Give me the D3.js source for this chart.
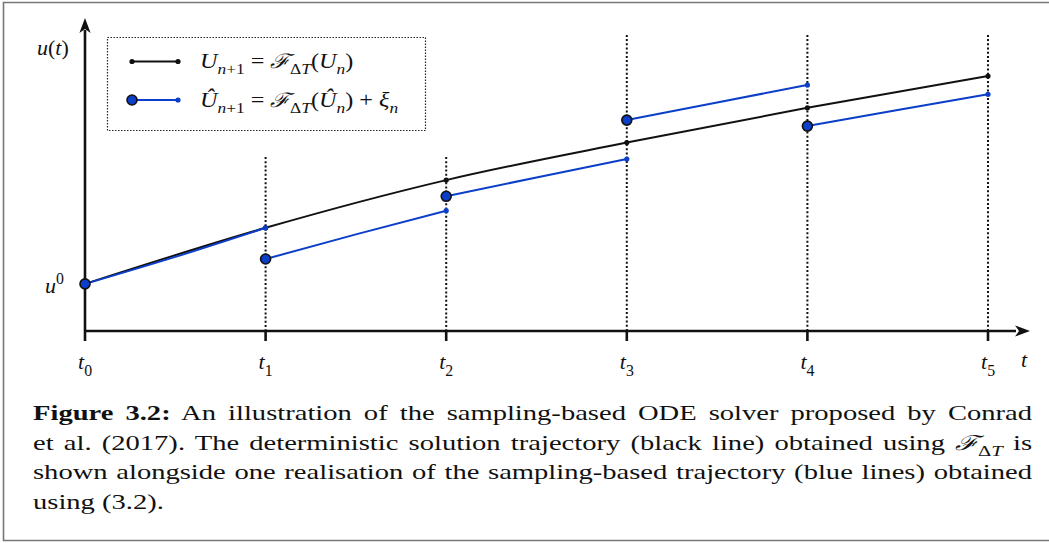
<!DOCTYPE html>
<html>
<head>
<meta charset="utf-8">
<script src="https://cdn.jsdelivr.net/npm/d3@7"></script>
<style>
  html, body { margin: 0; padding: 0; background: #fff; }
  svg { display: block; }
  text { font-family: "Liberation Serif", "DejaVu Serif", serif; fill: #111; }
</style>
</head>
<body>
<svg id="fig" width="1049" height="543"></svg>
<script>
// Time grid t_0 ... t_5
const steps = [0, 1, 2, 3, 4, 5];
// Deterministic trajectory U_{n+1} = F(U_n), value at each t_n
const detValues = [1.57, 3.44, 5.03, 6.28, 7.44, 8.50];
// Sampled trajectory: one segment per step, [t, u] pairs (start, mid, end)
const sampleSegments = [
  [[0, 1.57], [0.5, 2.47], [1, 3.44]],
  [[1, 2.40], [1.5, 3.22], [2, 4.01]],
  [[2, 4.49], [2.5, 5.12], [3, 5.73]],
  [[3, 7.03], [3.5, 7.62], [4, 8.20]],
  [[4, 6.83], [4.5, 7.37], [5, 7.89]]
];
// Height reached by the dotted guide above each t_1 ... t_5
const guideTops = [5.8, 5.8, 9.87, 9.87, 9.87];
// Tick labels along the time axis
const tickSubs = ["0", "1", "2", "3", "4", "5"];

const BLUE = "#0b3ec9";
const svg = d3.select("#fig");

const x = d3.scaleLinear().domain([0, 5]).range([85, 988]);
const y = d3.scaleLinear().domain([0, 10]).range([331, 31]);

// Outer frame
svg.append("path")
  .attr("d", "M1049,2.5 H3.5 V540.5 H1049")
  .attr("fill", "none").attr("stroke", "#777").attr("stroke-width", 1.6);

// Write a math expression made of parts: [text, kind]
// kind: "i" italic, "r" roman, "si"/"sr" subscript italic/roman, "pi"/"pr" superscript
function mathText(parent, px, py, parts, size) {
  const t = parent.append("text").attr("x", px).attr("y", py).style("font-size", size + "px");
  let offset = 0;
  parts.forEach(([str, kind]) => {
    const sub = kind[0] === "s", sup = kind[0] === "p";
    const italic = kind[kind.length - 1] === "i";
    const target = sub ? size * 0.3 : sup ? -size * 0.42 : 0;
    t.append("tspan")
      .attr("dy", target - offset)
      .style("font-style", italic ? "italic" : "normal")
      .style("font-size", (sub || sup ? size * 0.72 : size) + "px")
      .text(str);
    offset = target;
  });
  return t;
}

// Stretch a text horizontally so it spans a given width from its anchor x
function fitWidth(t, x0, width) {
  const w = t.node().getComputedTextLength();
  t.attr("x", 0).attr("transform", `translate(${x0},0) scale(${width / w},1)`);
}

// Dotted guides at t_1 ... t_5
svg.append("g").selectAll("line")
  .data(steps.slice(1))
  .join("line")
  .attr("x1", d => x(d)).attr("x2", d => x(d))
  .attr("y1", (d, i) => y(guideTops[i])).attr("y2", y(0))
  .attr("stroke", "#111").attr("stroke-width", 2)
  .attr("stroke-dasharray", "2,2.2");

// Axes
const axes = svg.append("g").attr("stroke", "#111").attr("stroke-width", 2.6);
axes.append("line").attr("x1", x(0)).attr("x2", 1016).attr("y1", y(0)).attr("y2", y(0));
axes.append("line").attr("x1", x(0)).attr("x2", x(0)).attr("y1", y(0)).attr("y2", 30);
axes.selectAll("line.tick").data(steps).join("line").attr("class", "tick")
  .attr("x1", d => x(d)).attr("x2", d => x(d))
  .attr("y1", y(0)).attr("y2", y(0) + 10);
const arrow = "M0,0 L-15,-5.6 L-11,0 L-15,5.6 Z";
svg.append("path").attr("d", arrow).attr("fill", "#111")
  .attr("transform", `translate(1030,${y(0)})`);
svg.append("path").attr("d", arrow).attr("fill", "#111")
  .attr("transform", `translate(${x(0)},18) rotate(-90)`);

// Axis labels
steps.forEach((d, i) => {
  mathText(svg, x(d) - 7, 369, [["t", "i"], [tickSubs[i], "sr"]], 22);
});
mathText(svg, 1021, 367, [["t", "i"]], 22);
mathText(svg, 37, 55, [["u", "i"], ["(", "r"], ["t", "i"], [")", "r"]], 22);
mathText(svg, 45, 293, [["u", "i"], ["0", "pr"]], 22);

// Deterministic trajectory
const line = d3.line().x(d => x(d[0])).y(d => y(d[1]));
svg.append("path")
  .datum(steps.map((s, i) => [s, detValues[i]]))
  .attr("d", line.curve(d3.curveMonotoneX))
  .attr("fill", "none").attr("stroke", "#111").attr("stroke-width", 2);
svg.append("g").selectAll("circle")
  .data(steps).join("circle")
  .attr("cx", d => x(d)).attr("cy", (d, i) => y(detValues[i]))
  .attr("r", 2.6).attr("fill", "#111");

// Sampled trajectory segments
const sLine = d3.line().x(d => x(d[0])).y(d => y(d[1])).curve(d3.curveNatural);
const segG = svg.append("g");
segG.selectAll("path")
  .data(sampleSegments).join("path")
  .attr("d", sLine)
  .attr("fill", "none").attr("stroke", BLUE).attr("stroke-width", 2);
segG.selectAll("circle.end")
  .data(sampleSegments).join("circle").attr("class", "end")
  .attr("cx", d => x(d[d.length - 1][0])).attr("cy", d => y(d[d.length - 1][1]))
  .attr("r", 2.6).attr("fill", BLUE);
segG.selectAll("circle.start")
  .data(sampleSegments).join("circle").attr("class", "start")
  .attr("cx", d => x(d[0][0])).attr("cy", d => y(d[0][1]))
  .attr("r", 5).attr("fill", BLUE).attr("stroke", "#111").attr("stroke-width", 1.6);

// Legend
const lg = svg.append("g");
lg.append("rect").attr("x", 107.5).attr("y", 37.5).attr("width", 318).attr("height", 93)
  .attr("fill", "none").attr("stroke", "#222").attr("stroke-width", 1.2)
  .attr("stroke-dasharray", "1.5,1.5");
lg.append("line").attr("x1", 132).attr("x2", 178).attr("y1", 61.5).attr("y2", 61.5)
  .attr("stroke", "#111").attr("stroke-width", 2);
lg.selectAll("circle.k").data([132, 178]).join("circle").attr("class", "k")
  .attr("cx", d => d).attr("cy", 61.5).attr("r", 2.6).attr("fill", "#111");
lg.append("line").attr("x1", 132).attr("x2", 178).attr("y1", 100).attr("y2", 100)
  .attr("stroke", BLUE).attr("stroke-width", 2);
lg.append("circle").attr("cx", 178).attr("cy", 100).attr("r", 2.6).attr("fill", BLUE);
lg.append("circle").attr("cx", 132).attr("cy", 100).attr("r", 5)
  .attr("fill", BLUE).attr("stroke", "#111").attr("stroke-width", 1.6);

const leg1 = mathText(lg, 200, 68, [
  ["U", "i"], ["n", "si"], ["+1", "sr"], ["  =  ", "r"], ["\u2131", "i"], ["\u0394", "sr"], ["T", "si"],
  ["(", "r"], ["U", "i"], ["n", "si"], [")", "r"]
], 20);
fitWidth(leg1, 200, 153);
const leg2 = mathText(lg, 200, 107, [
  ["\u00DB", "i"], ["n", "si"], ["+1", "sr"], ["  =  ", "r"], ["\u2131", "i"], ["\u0394", "sr"], ["T", "si"],
  ["(", "r"], ["\u00DB", "i"], ["n", "si"], [")", "r"], ["  +  ", "r"], ["\u03BE", "i"], ["n", "si"]
], 20);
fitWidth(leg2, 200, 198);

// Caption, justified between the margins
const capLeft = 33, capRight = 1032, capSize = 20.5;
const captionLines = [
  { parts: [["Figure 3.2:", "b"], [" An illustration of the sampling-based ODE solver proposed by Conrad", "r"]], justify: true },
  { parts: [["et al. (2017). The deterministic solution trajectory (black line) obtained using ", "r"], ["\u2131", "i"], ["\u0394", "sr"], ["T", "si"], [" is", "r"]], justify: true },
  { parts: [["shown alongside one realisation of the sampling-based trajectory (blue lines) obtained", "r"]], justify: true },
  { parts: [["using (3.2).", "r"]], justify: false }
];
const capTexts = captionLines.map((ln, i) => {
  const t = svg.append("text").attr("x", 0).attr("y", 420 + i * 29.7)
    .style("font-size", capSize + "px");
  let offset = 0;
  ln.parts.forEach(([str, kind]) => {
    const sub = kind[0] === "s";
    const target = sub ? capSize * 0.3 : 0;
    t.append("tspan")
      .attr("dy", target - offset)
      .style("font-weight", kind === "b" ? "bold" : "normal")
      .style("font-style", kind.endsWith("i") ? "italic" : "normal")
      .style("font-size", (sub ? capSize * 0.72 : capSize) + "px")
      .text(str);
    offset = target;
  });
  return t;
});
// Common horizontal stretch, then word spacing fills each justified line
const ratios = capTexts.filter((t, i) => captionLines[i].justify)
  .map(t => (capRight - capLeft) / t.node().getComputedTextLength());
const stretch = d3.min(ratios) * 0.985;
capTexts.forEach((t, i) => {
  const ln = captionLines[i];
  t.attr("transform", `translate(${capLeft},0) scale(${stretch},1)`);
  if (ln.justify) {
    const natural = t.node().getComputedTextLength();
    const spaces = ln.parts.map(p => p[0]).join("").split(" ").length - 1;
    t.style("word-spacing", (((capRight - capLeft) / stretch - natural) / spaces) + "px");
  }
});
</script>
</body>
</html>
